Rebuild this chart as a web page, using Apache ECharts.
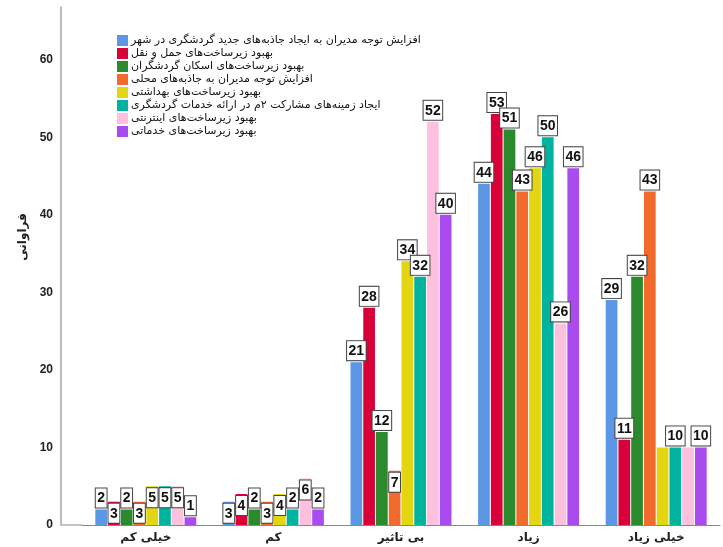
<!DOCTYPE html>
<html>
<head>
<meta charset="utf-8">
<script src="https://cdn.jsdelivr.net/npm/echarts@6/dist/echarts.min.js"></script>
<style>
  html, body { margin: 0; padding: 0; background: #fff; }
  #chart { width: 723px; height: 547px; }
</style>
</head>
<body>
<div id="chart"></div>
<script>
// Response categories along the horizontal axis
const categories = ['خیلی کم', 'کم', 'بی تاثیر', 'زیاد', 'خیلی زیاد'];

// One series per survey item (frequencies)
const seriesNames = [
  'افزایش توجه مدیران به ایجاد جاذبه‌های جدید گردشگری در شهر',
  'بهبود زیرساخت‌های حمل و نقل',
  'بهبود زیرساخت‌های اسکان گردشگران',
  'افزایش توجه مدیران به جاذبه‌های محلی',
  'بهبود زیرساخت‌های بهداشتی',
  'ایجاد زمینه‌های مشارکت ۲م در ارائه خدمات گردشگری',
  'بهبود زیرساخت‌های اینترنتی',
  'بهبود زیرساخت‌های خدماتی'
];

const newAttractions   = [2, 3, 21, 44, 29];
const transport        = [3, 4, 28, 53, 11];
const accommodation    = [2, 2, 12, 51, 32];
const localAttractions = [3, 3, 7, 43, 43];
const health           = [5, 4, 34, 46, 10];
const participation    = [5, 2, 32, 50, 10];
const internet         = [5, 6, 52, 26, 10];
const services         = [1, 2, 40, 46, 10];

const seriesValues = [newAttractions, transport, accommodation, localAttractions,
                      health, participation, internet, services];

const yTicks = [0, 10, 20, 30, 40, 50, 60];

// value labels suppressed where they would sit on top of a neighbour's: [series, category]
const suppressedLabels = [[4, 4], [6, 4]];

const colors = ['#5b97e4', '#d9003a', '#2a8a2c', '#f26a2c',
                '#e3d510', '#00b39e', '#fdc1df', '#aa4bef'];

// layout
const gridLeft = 82, gridRight = 3, gridTop = 7, gridBottom = 22;
const yAxisOffset = 21;

const chart = echarts.init(document.getElementById('chart'), null, { renderer: 'canvas' });

const isSuppressed = (s, c) => suppressedLabels.some(p => p[0] === s && p[1] === c);

const series = seriesNames.map((name, i) => ({
  name: name,
  type: 'bar',
  data: seriesValues[i].map((v, j) =>
    isSuppressed(i, j) ? { value: v, label: { show: false } } : v),
  barWidth: 11.7,
  barGap: '9%',
  itemStyle: { color: colors[i] },
  label: {
    show: true,
    position: 'top',
    distance: 2,
    backgroundColor: '#fff',
    borderColor: '#444',
    borderWidth: 1,
    padding: [3, 1.5, 2, 1.5],
    fontFamily: '"Liberation Sans", Arial, sans-serif',
    fontWeight: 'bold',
    fontSize: 14,
    color: '#111'
  },
  // a label box that fits inside its bar is tucked just under the bar top
  labelLayout: function (p) {
    const lr = p.labelRect, r = p.rect;
    if (lr.width <= r.width + 2 && lr.height <= r.height) {
      return { dy: lr.height + 2 };
    }
    return {};
  }
}));

chart.setOption({
  animation: false,
  backgroundColor: '#fff',
  color: colors,
  grid: { left: gridLeft, right: gridRight, top: gridTop, bottom: gridBottom, containLabel: false },
  legend: {
    orient: 'vertical',
    left: 117,
    top: 35,
    itemWidth: 11,
    itemHeight: 11,
    itemGap: 2,
    padding: 0,
    icon: 'rect',
    data: seriesNames,
    textStyle: {
      fontFamily: '"DejaVu Sans", sans-serif',
      fontSize: 11,
      lineHeight: 11,
      color: '#111',
      padding: [0, 0, 0, -2]
    }
  },
  xAxis: {
    type: 'category',
    data: categories,
    axisLine: { lineStyle: { color: '#888', width: 1 } },
    axisTick: { show: false },
    axisLabel: {
      margin: 7,
      fontFamily: '"DejaVu Sans", sans-serif',
      fontWeight: 'bold',
      fontSize: 12,
      color: '#222'
    }
  },
  yAxis: {
    type: 'value',
    min: 0,
    max: 66.8,
    interval: 10,
    offset: yAxisOffset,
    name: 'فراوانی',
    nameLocation: 'middle',
    nameGap: 28,
    nameTextStyle: {
      fontFamily: '"DejaVu Sans", sans-serif',
      fontWeight: 'bold',
      fontSize: 12,
      color: '#222',
      padding: [0, 0, 0, 58]
    },
    axisLine: { show: true, lineStyle: { color: '#a6a6a6', width: 1.5 } },
    axisTick: { show: false },
    splitLine: { show: false },
    axisLabel: {
      margin: 8,
      showMaxLabel: false,
      fontFamily: '"Liberation Sans", Arial, sans-serif',
      fontWeight: 'bold',
      fontSize: 12,
      color: '#222',
      formatter: v => (yTicks.indexOf(v) >= 0 ? String(v) : '')
    }
  },
  series: series
});

// extend the baseline from the value axis to the plot area
const zeroY = chart.convertToPixel({ yAxisIndex: 0 }, 0);
chart.setOption({
  graphic: [{
    type: 'line',
    shape: { x1: gridLeft - yAxisOffset, y1: zeroY, x2: gridLeft, y2: zeroY },
    style: { stroke: '#888', lineWidth: 1 },
    silent: true
  }]
});
</script>
</body>
</html>
